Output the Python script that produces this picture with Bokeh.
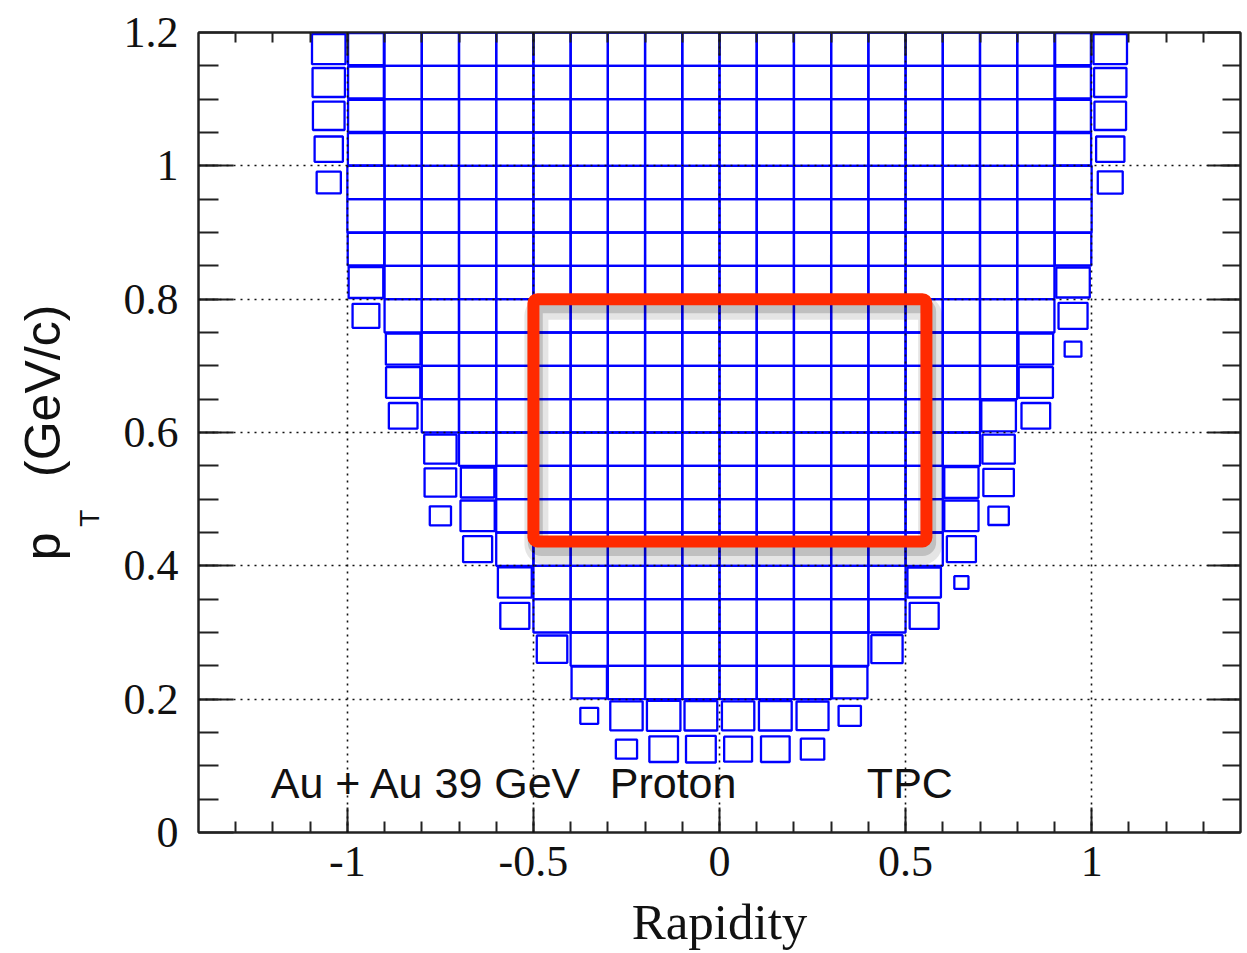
from bokeh.plotting import figure
from bokeh.models import (ColumnDataSource, FixedTicker, LinearAxis, Title,
                          BoxAnnotation, Range1d)
from bokeh.core.properties import value
from bokeh.embed import file_html
from bokeh.resources import INLINE

# ---------------- data ----------------
# rapidity bin centres (bin width 0.1)
rapidity_bins = [-1.05, -0.95, -0.85, -0.75, -0.65, -0.55, -0.45, -0.35, -0.25, -0.15, -0.05,
                 0.05, 0.15, 0.25, 0.35, 0.45, 0.55, 0.65, 0.75, 0.85, 0.95, 1.05]
# pT bin centres, top row first (bin width 0.05)
pt_bins = [1.175, 1.125, 1.075, 1.025, 0.975, 0.925, 0.875, 0.825, 0.775, 0.725, 0.675,
           0.625, 0.575, 0.525, 0.475, 0.425, 0.375, 0.325, 0.275, 0.225, 0.175, 0.125]
# relative bin content (box size), one row per pT bin
box_size = [
    [0.90, 0.96, 1, 1, 1, 1, 1, 1, 1, 1, 1, 1, 1, 1, 1, 1, 1, 1, 1, 1, 0.96, 0.90],
    [0.87, 0.96, 1, 1, 1, 1, 1, 1, 1, 1, 1, 1, 1, 1, 1, 1, 1, 1, 1, 1, 0.96, 0.87],
    [0.85, 0.96, 1, 1, 1, 1, 1, 1, 1, 1, 1, 1, 1, 1, 1, 1, 1, 1, 1, 1, 0.96, 0.85],
    [0.76, 0.97, 1, 1, 1, 1, 1, 1, 1, 1, 1, 1, 1, 1, 1, 1, 1, 1, 1, 1, 0.97, 0.76],
    [0.65, 1, 1, 1, 1, 1, 1, 1, 1, 1, 1, 1, 1, 1, 1, 1, 1, 1, 1, 1, 1, 0.67],
    [0, 1, 1, 1, 1, 1, 1, 1, 1, 1, 1, 1, 1, 1, 1, 1, 1, 1, 1, 1, 1, 0],
    [0, 0.98, 1, 1, 1, 1, 1, 1, 1, 1, 1, 1, 1, 1, 1, 1, 1, 1, 1, 1, 0.98, 0],
    [0, 0.93, 1, 1, 1, 1, 1, 1, 1, 1, 1, 1, 1, 1, 1, 1, 1, 1, 1, 1, 0.90, 0],
    [0, 0.72, 1, 1, 1, 1, 1, 1, 1, 1, 1, 1, 1, 1, 1, 1, 1, 1, 1, 1, 0.78, 0],
    [0, 0, 0.93, 1, 1, 1, 1, 1, 1, 1, 1, 1, 1, 1, 1, 1, 1, 1, 1, 0.93, 0.45, 0],
    [0, 0, 0.92, 1, 1, 1, 1, 1, 1, 1, 1, 1, 1, 1, 1, 1, 1, 1, 1, 0.92, 0, 0],
    [0, 0, 0.77, 1, 1, 1, 1, 1, 1, 1, 1, 1, 1, 1, 1, 1, 1, 1, 0.93, 0.77, 0, 0],
    [0, 0, 0, 0.87, 1, 1, 1, 1, 1, 1, 1, 1, 1, 1, 1, 1, 1, 1, 0.87, 0, 0, 0],
    [0, 0, 0, 0.85, 0.90, 1, 1, 1, 1, 1, 1, 1, 1, 1, 1, 1, 1, 0.92, 0.82, 0, 0, 0],
    [0, 0, 0, 0.57, 0.92, 1, 1, 1, 1, 1, 1, 1, 1, 1, 1, 1, 1, 0.92, 0.55, 0, 0, 0],
    [0, 0, 0, 0, 0.78, 1, 1, 1, 1, 1, 1, 1, 1, 1, 1, 1, 1, 0.78, 0, 0, 0, 0],
    [0, 0, 0, 0, 0, 0.91, 1, 1, 1, 1, 1, 1, 1, 1, 1, 1, 0.90, 0.38, 0, 0, 0, 0],
    [0, 0, 0, 0, 0, 0.78, 1, 1, 1, 1, 1, 1, 1, 1, 1, 1, 0.78, 0, 0, 0, 0, 0],
    [0, 0, 0, 0, 0, 0, 0.82, 1, 1, 1, 1, 1, 1, 1, 1, 0.84, 0, 0, 0, 0, 0, 0],
    [0, 0, 0, 0, 0, 0, 0, 0.95, 1, 1, 1, 1, 1, 1, 0.95, 0, 0, 0, 0, 0, 0, 0],
    [0, 0, 0, 0, 0, 0, 0, 0.48, 0.87, 0.90, 0.88, 0.87, 0.88, 0.86, 0.60, 0, 0, 0, 0, 0, 0, 0],
    [0, 0, 0, 0, 0, 0, 0, 0, 0.57, 0.77, 0.80, 0.75, 0.77, 0.63, 0, 0, 0, 0, 0, 0, 0, 0],
]
bin_dx = 0.1
bin_dy = 0.05

x_major = [-1, -0.5, 0, 0.5, 1]
x_tick_labels = ["-1", "-0.5", "0", "0.5", "1"]
x_minor = [-1.3, -1.2, -1.1, -1.0, -0.9, -0.8, -0.7, -0.6, -0.5, -0.4, -0.3, -0.2, -0.1, 0.0,
           0.1, 0.2, 0.3, 0.4, 0.5, 0.6, 0.7, 0.8, 0.9, 1.0, 1.1, 1.2, 1.3]
y_major = [0, 0.2, 0.4, 0.6, 0.8, 1.0, 1.2]
y_tick_labels = ["0", "0.2", "0.4", "0.6", "0.8", "1", "1.2"]
y_minor = [0.05, 0.1, 0.15, 0.2, 0.25, 0.3, 0.35, 0.4, 0.45, 0.5, 0.55, 0.6, 0.65, 0.7,
           0.75, 0.8, 0.85, 0.9, 0.95, 1.0, 1.05, 1.1, 1.15]

note_texts = ["Au + Au 39 GeV", "Proton", "TPC"]
x_title = "Rapidity"
y_title_main = "p\u00a0\u00a0\u00a0\u00a0(GeV/c)"
y_title_sub = "T" + "\u00a0" * 22

# ---------------- figure ----------------
p = figure(width=1247, height=953, x_range=Range1d(-1.4, 1.4), y_range=Range1d(0, 1.2),
           output_backend="svg", toolbar_location=None,
           min_border_left=198, min_border_right=7, min_border_top=32, min_border_bottom=121)
p.background_fill_color = "white"
p.border_fill_color = "white"
p.outline_line_color = "#222222"
p.outline_line_width = 2

# boxes
xs, ys, ws, hs = [], [], [], []
for r, pt in enumerate(pt_bins):
    for c, yv in enumerate(rapidity_bins):
        s = box_size[r][c]
        if s > 0:
            xs.append(yv)
            ys.append(pt)
            ws.append(bin_dx * s)
            hs.append(bin_dy * s)
src = ColumnDataSource(dict(x=xs, y=ys, w=ws, h=hs))
p.rect(x="x", y="y", width="w", height="h", source=src, fill_color=None,
       line_color="#0000ff", line_width=2.3)

# grid
p.xgrid.ticker = FixedTicker(ticks=x_major[:])
p.ygrid.ticker = FixedTicker(ticks=y_major[1:-1])
for g in (p.xgrid, p.ygrid):
    g.grid_line_color = "#111111"
    g.grid_line_dash = "2 5"
    g.grid_line_width = 1.6
    g.level = "guide"


def style_axis(ax, major, minor, labels, maj_len, min_len, show):
    ax.ticker = FixedTicker(ticks=major, minor_ticks=minor)
    ax.major_tick_in = maj_len
    ax.major_tick_out = 0
    ax.minor_tick_in = min_len
    ax.minor_tick_out = 0
    ax.axis_line_color = "#222222"
    ax.axis_line_width = 2
    ax.major_tick_line_color = "#222222"
    ax.major_tick_line_width = 2
    ax.minor_tick_line_color = "#222222"
    ax.minor_tick_line_width = 2
    if show:
        ax.major_label_overrides = {float(t): l for t, l in zip(major, labels)}
        ax.major_label_text_font = "Liberation Serif"
        ax.major_label_text_font_size = "44px"
        ax.major_label_text_color = "#111111"
    else:
        ax.major_label_overrides = {float(t): "" for t in major}
        ax.major_label_text_font_size = "0px"
        ax.major_label_standoff = 0


xa = p.xaxis[0]
style_axis(xa, x_major, x_minor, x_tick_labels, 25, 11, True)
xa.major_label_standoff = 14
xa.axis_label = x_title
xa.axis_label_text_font = "Liberation Serif"
xa.axis_label_text_font_size = "51px"
xa.axis_label_text_font_style = "normal"
xa.axis_label_text_color = "#111111"
xa.axis_label_standoff = 15

ya = p.yaxis[0]
style_axis(ya, y_major, y_minor, y_tick_labels, 35, 20, True)
ya.major_label_standoff = 20
ya.axis_label = y_title_sub
ya.axis_label_text_font = "Liberation Sans"
ya.axis_label_text_font_size = "28px"
ya.axis_label_text_font_style = "normal"
ya.axis_label_text_color = "#111111"
ya.axis_label_standoff = 16

top_ax = LinearAxis()
style_axis(top_ax, x_major, x_minor, x_tick_labels, 23, 10, False)
p.add_layout(top_ax, "above")
right_ax = LinearAxis()
style_axis(right_ax, y_major, y_minor, y_tick_labels, 33, 18, False)
p.add_layout(right_ax, "right")

p.add_layout(Title(text=y_title_main, align="center", vertical_align="bottom",
                   text_font="Liberation Sans", text_font_size="50px",
                   text_font_style="normal", text_color="#111111", standoff=0), "left")

# text in the pad
p.text(x=[-1.206, -0.295, 0.396], y=[0.075, 0.075, 0.075], text=note_texts,
       text_font=value("Liberation Sans"), text_font_size="43px",
       text_color="#111111", text_align="left", text_baseline="alphabetic")

# highlighted region (red frame with soft shadow)
p.add_layout(BoxAnnotation(left=-0.492, right=0.566, bottom=0.420, top=0.787,
                           fill_color=None, fill_alpha=0, line_color="black",
                           line_alpha=0.10, line_width=24, border_radius=8))
p.add_layout(BoxAnnotation(left=-0.495, right=0.562, bottom=0.426, top=0.790,
                           fill_color=None, fill_alpha=0, line_color="black",
                           line_alpha=0.16, line_width=15, border_radius=6))
p.add_layout(BoxAnnotation(left=-0.5, right=0.556, bottom=0.4365, top=0.8,
                           fill_color=None, fill_alpha=0, line_color="#ff2a00",
                           line_alpha=1.0, line_width=12, border_radius=4))

open("out.html", "w").write(file_html(p, INLINE))
